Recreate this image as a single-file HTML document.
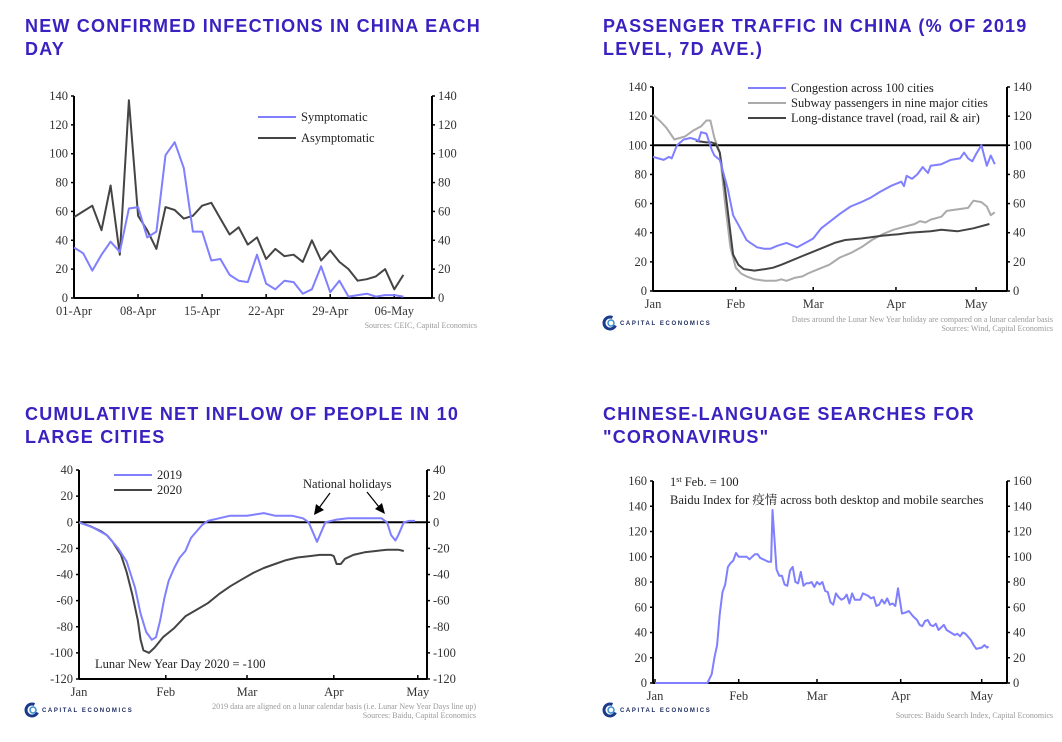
<!DOCTYPE html>
<html><head><meta charset="utf-8">
<style>
html,body{margin:0;padding:0;background:#fff;}
svg{display:block;}
.title{font-family:"Liberation Sans","DejaVu Sans",sans-serif;font-weight:bold;font-size:18px;fill:#3a22c0;letter-spacing:1.2px;}
.tick{font-family:"Liberation Serif",serif;font-size:12.5px;fill:#333;}
.leg{font-family:"Liberation Serif","Noto Serif CJK SC",serif;font-size:12.5px;fill:#222;}
.src{font-family:"Liberation Serif",serif;font-size:8px;fill:#999;}
.logo{font-family:"Liberation Sans",sans-serif;font-size:6px;font-weight:bold;fill:#1b2a5c;letter-spacing:1.6px;}
</style></head>
<body>
<svg id="root" width="1062" height="742" viewBox="0 0 1062 742" xmlns="http://www.w3.org/2000/svg">
<text class="title" x="25" y="32">NEW CONFIRMED INFECTIONS IN CHINA EACH<tspan x="25" y="55">DAY</tspan></text>
<text class="title" x="603" y="32">PASSENGER TRAFFIC IN CHINA (% OF 2019<tspan x="603" y="55">LEVEL, 7D AVE.)</tspan></text>
<text class="title" x="25" y="420">CUMULATIVE NET INFLOW OF PEOPLE IN 10<tspan x="25" y="443">LARGE CITIES</tspan></text>
<text class="title" x="603" y="420">CHINESE-LANGUAGE SEARCHES FOR<tspan x="603" y="443">"CORONAVIRUS"</tspan></text>
</svg>
<script>
// ---- Chart 1 data ----
const c1Days = [0,1,2,3,4,5,6,7,8,9,10,11,12,13,14,15,16,17,18,19,20,21,22,23,24,25,26,27,28,29,30,31,32,33,34,35,36];
const c1Symptomatic = [35,31,19,30,39,32,62,63,42,46,99,108,90,46,46,26,27,16,12,11,30,10,6,12,11,3,6,22,4,12,1,2,3,1,2,2,1];
const c1Asymptomatic = [56,60,64,47,78,30,137,57,47,34,63,61,55,57,64,66,55,44,49,37,42,27,34,29,30,25,40,26,33,25,20,12,13,15,20,6,16];
const c1TickDays = [0,7,14,21,28,35];
const c1TickLabels = ["01-Apr","08-Apr","15-Apr","22-Apr","29-Apr","06-May"];
const c1YTicks = [0,20,40,60,80,100,120,140];
// ---- Chart 2 data ----
const c2CongDays = [0,4,6,7,9,11.5,14,16,17,18,20,22,23,25,28,30,33,35,36.5,39,41.5,44,46.5,50,54,58,60,63,66.5,70,74,78,81.5,85,89,93,94,95,97,99,101,103,104,108,111.5,115,116.5,118,119.6,121,123,125,126.5,128];
const c2Congestion = [92,90,92,91,100,104,105,104,103,109,108,97,93,90,70,52,42,35,33,30,29,29,31,33,30,34,36,43,48,53,58,61,64,68,72,75,72,79,77,80,85,81,86,87,90,91,95,91,89,94,100,86,93,87];
const c2SubDays = [0,3,5,8,12,15,18,20,21.5,23,25,27,29,31,33,35,38,42,46,48,50,53,56,58,62,66,70,74,78,82,86,90,94,98,100,102,104,108,110,114,118,120,123,125,126.5,128];
const c2Subway = [121,116,112,104,106,110,113,117,117,105,95,60,30,16,12,10,8,7,7,8,7,9,10,12,15,18,23,26,30,35,39,42,44,46,48,47,49,51,55,56,57,62,61,58,52,54];
const c2LongDays = [16,20,22,23.5,25,27,29,30,32,34,38,42,45,48,52,56,60,64,68,72,78,82,86,92,96,104,108,114,120,126];
const c2Long = [103,102,102,101,95,70,40,25,18,15,14,15,16,18,21,24,27,30,33,35,36,37,38,39,40,41,42,41,43,46];
const c2TickDays = [0,31,60,91,121];
const c2TickLabels = ["Jan","Feb","Mar","Apr","May"];
const c2YTicks = [0,20,40,60,80,100,120,140];
// ---- Chart 3 data ----
const c3Days2019 = [0,5,10,14,17,20,22,24,26,27.5,29,30.5,32,34,36,38,40,42,44,46,50,54,60,66,70,76,80,82,84,85,86,88,92,96,100,104,108,110,111.5,113,114,116,118,120];
const c3Values2019 = [0,-4,-10,-20,-30,-50,-70,-84,-90,-88,-75,-58,-45,-35,-27,-22,-12,-7,-2,1,3,5,5,7,5,5,3,0,-10,-15,-10,0,2,3,3,3,3,0,-10,-14,-10,0,1,1];
const c3Days2020 = [0,4,8,10,12,15,17,19,21,22,23,25,27,30,34,38,42,46,50,54,58,62,66,70,74,78,82,86,90,91,92,93.5,95,98,102,106,110,114,116];
const c3Values2020 = [0,-3,-7,-10,-15,-25,-38,-55,-75,-90,-98,-100,-96,-88,-81,-72,-67,-62,-55,-49,-44,-39,-35,-32,-29,-27,-26,-25,-25,-26,-32,-32,-28,-25,-23,-22,-21,-21,-22];
const c3TickDays = [0,31,60,91,121];
const c3TickLabels = ["Jan","Feb","Mar","Apr","May"];
const c3YTicks = [-120,-100,-80,-60,-40,-20,0,20,40];
// ---- Chart 4 data ----
const c4Days = [0,19.4,21,22,23,24,25,26,27,28,29,30,31,33,34,35,37,38,39,41,42,43,43.5,45,46,47,48,49,50,51,52,53,54,55,56,57,58,59,60,61,62,63,64,65,66,67,68,69,70,71,72,73,74,76,77,79,80,81,82,83,84,85,86,87,88,89,90,91.5,93,94,95.5,97,98,99,100,101,102,103,104,105,107,108,109.5,111,112,113,114,115,117,118,119,121,122,123,123.5];
const c4Values = [0,0,7,20,30,55,72,78,92,95,97,103,100,100,100,98,102,102,99,97,96,96,137,90,85,85,78,77,89,92,80,79,88,77,79,79,80,76,80,78,80,73,72,64,62,71,68,66,67,70,63,71,66,66,71,69,67,68,61,62,66,63,67,62,63,61,75,55,56,57,53,50,46,45,49,50,46,45,47,42,46,42,40,38,39,37,40,39,34,30,27,28,30,28,29];
const c4TickDays = [0,31,60,91,121];
const c4TickLabels = ["Jan","Feb","Mar","Apr","May"];
const c4YTicks = [0,20,40,60,80,100,120,140,160];

const NS = "http://www.w3.org/2000/svg";
const root = document.getElementById('root');
function mk(tag, attrs, parent){
  const e = document.createElementNS(NS, tag);
  for (const k in attrs) e.setAttribute(k, attrs[k]);
  (parent||root).appendChild(e);
  return e;
}
function chart(cfg){
  const g = mk('g', {});
  
  
  const xs = d => cfg.x0 + (d - cfg.d0) * cfg.pxDay;
  const ys = v => cfg.yBot - (v - cfg.vMin) / (cfg.vMax - cfg.vMin) * (cfg.yBot - cfg.yTop);
  cfg.xs = xs; cfg.ys = ys; cfg.g = g;
  // y axes
  const la = mk('line', {x1:cfg.xL, y1:cfg.yTop, x2:cfg.xL, y2:cfg.yBot, stroke:'#000','stroke-width':2}, g);
  
  
  const ra = mk('line', {x1:cfg.xR, y1:cfg.yTop, x2:cfg.xR, y2:cfg.yBot, stroke:'#000','stroke-width':2}, g);
  
  
  const xa = mk('line', {x1:cfg.xL, y1:cfg.yBot, x2:cfg.xR, y2:cfg.yBot, stroke:'#000','stroke-width':2}, g);
  
  
  cfg.yTicks.forEach(v => {
    const y = ys(v);
    mk('line', {x1:cfg.xL-3, y1:y, x2:cfg.xL, y2:y, stroke:'#000','stroke-width':1.5}, g);
    mk('line', {x1:cfg.xR, y1:y, x2:cfg.xR+3, y2:y, stroke:'#000','stroke-width':1.5}, g);
    const t1 = mk('text', {x:cfg.xL-6, y:y+4, 'text-anchor':'end', class:'tick'}, g);
    t1.textContent = v;
    
    
    const t2 = mk('text', {x:cfg.xR+6, y:y+4, class:'tick'}, g);
    t2.textContent = v;
    
    
  });
  cfg.xTickDays.forEach((d, i) => {
    const x = xs(d);
    mk('line', {x1:x, y1:cfg.yBot-4, x2:x, y2:cfg.yBot, stroke:'#000','stroke-width':1.5}, g);
    const t = mk('text', {x:cfg.xAnchorStart && i===0 ? x-2 : x, y:cfg.yBot+17, 'text-anchor': cfg.xAnchorStart && i===0 ? 'start':'middle', class:'tick'}, g);
    t.textContent = cfg.xTickLabels[i];
    
    
  });
  return cfg;
}
function series(cfg, days, vals, color, name, w){
  const pts = days.map((d,i) => cfg.xs(d).toFixed(1)+','+cfg.ys(vals[i]).toFixed(1)).join(' ');
  const p = mk('polyline', {points:pts, fill:'none', stroke:color, 'stroke-width':w||2, 'stroke-linejoin':'round'}, cfg.g);
  
  
}
function refLine(cfg, v, name){
  const l = mk('line', {x1:cfg.xL, y1:cfg.ys(v), x2:cfg.xR, y2:cfg.ys(v), stroke:'#000','stroke-width':2}, cfg.g);
  
  
}
function legend(x, y, color, label, name){
  const g = mk('g', {});
  
  
  mk('line', {x1:x, y1:y, x2:x+38, y2:y, stroke:color, 'stroke-width':2}, g);
  const t = mk('text', {x:x+43, y:y+4, class:'leg'}, g);
  t.textContent = label;
}
function text(x, y, str, cls, name, anchor){
  const t = mk('text', {x:x, y:y, class:cls, 'text-anchor':anchor||'start'});
  t.textContent = str;
  
  
  return t;
}
function logo(x, y){
  const g = mk('g', {});
  
  
  mk('circle', {cx:x+7, cy:y+7, r:6, fill:'none', stroke:'#1b3a8c', 'stroke-width':3, 'stroke-dasharray':'28 10', transform:'rotate(25 '+(x+7)+' '+(y+7)+')'}, g);
  mk('circle', {cx:x+8, cy:y+7, r:3, fill:'none', stroke:'#3a8fd0', 'stroke-width':1.5}, g);
  const t = mk('text', {x:x+17, y:y+9, class:'logo'}, g);
  t.textContent = 'CAPITAL ECONOMICS';
}
const BLUE = '#7f7fff', DARK = '#444', GREY = '#aaa';

// Chart 1
const c1 = chart({name:'chart1-infections', x0:74, d0:0, pxDay:9.15, xL:74, xR:432, yTop:96, yBot:298, vMin:0, vMax:140, yTicks:c1YTicks, xTickDays:c1TickDays, xTickLabels:c1TickLabels});
series(c1, c1Days, c1Asymptomatic, DARK, 'asymptomatic-line');
series(c1, c1Days, c1Symptomatic, BLUE, 'symptomatic-line');
legend(258, 117, BLUE, 'Symptomatic', 'legend-symptomatic');
legend(258, 138, DARK, 'Asymptomatic', 'legend-asymptomatic');
text(477, 328, 'Sources: CEIC, Capital Economics', 'src', 'chart1-sources', 'end');

// Chart 2
const c2 = chart({name:'chart2-passenger-traffic', x0:653, d0:0, pxDay:2.67, xL:653, xR:1007, yTop:87, yBot:291, vMin:0, vMax:140, yTicks:c2YTicks, xTickDays:c2TickDays, xTickLabels:c2TickLabels});
refLine(c2, 100, 'reference-line-100');
series(c2, c2SubDays, c2Subway, GREY, 'subway-line');
series(c2, c2LongDays, c2Long, DARK, 'long-distance-line');
series(c2, c2CongDays, c2Congestion, BLUE, 'congestion-line');
legend(748, 88, BLUE, 'Congestion across 100 cities', 'legend-congestion');
legend(748, 103, GREY, 'Subway passengers in nine major cities', 'legend-subway');
legend(748, 118, DARK, 'Long-distance travel (road, rail & air)', 'legend-long-distance');
text(1053, 322, 'Dates around the Lunar New Year holiday are compared on a lunar calendar basis', 'src', 'chart2-note', 'end');
text(1053, 331, 'Sources: Wind, Capital Economics', 'src', 'chart2-sources', 'end');
logo(603, 316);

// Chart 3
const c3 = chart({name:'chart3-net-inflow', x0:79, d0:0, pxDay:2.8, xL:79, xR:427, yTop:470, yBot:679, vMin:-120, vMax:40, yTicks:c3YTicks, xTickDays:c3TickDays, xTickLabels:c3TickLabels});
refLine(c3, 0, 'zero-line');
series(c3, c3Days2020, c3Values2020, DARK, 'line-2020');
series(c3, c3Days2019, c3Values2019, BLUE, 'line-2019');
legend(114, 475, BLUE, '2019', 'legend-2019');
legend(114, 490, DARK, '2020', 'legend-2020');
text(303, 488, 'National  holidays', 'leg', 'national-holidays-label');
const a1 = mk('g', {});  
mk('line', {x1:330, y1:493, x2:319, y2:508, stroke:'#000', 'stroke-width':1.2}, a1);
mk('polygon', {points:'314,515 316,504 324,510', fill:'#000'}, a1);
const a2 = mk('g', {});  
mk('line', {x1:367, y1:492, x2:379, y2:507, stroke:'#000', 'stroke-width':1.2}, a2);
mk('polygon', {points:'385,514 375,509 382,503', fill:'#000'}, a2);
text(95, 668, 'Lunar  New Year Day  2020  =  -100', 'leg', 'lunar-new-year-note');
text(476, 709, '2019 data are aligned on a lunar calendar basis (i.e. Lunar New Year Days line up)', 'src', 'chart3-note', 'end');
text(476, 718, 'Sources: Baidu, Capital Economics', 'src', 'chart3-sources', 'end');
logo(25, 703);

// Chart 4
const c4 = chart({name:'chart4-baidu-searches', x0:655, d0:0, pxDay:2.7, xL:653, xR:1007, yTop:481, yBot:683, vMin:0, vMax:160, yTicks:c4YTicks, xTickDays:c4TickDays, xTickLabels:c4TickLabels});
series(c4, c4Days, c4Values, BLUE, 'baidu-index-line');
const t4 = text(670, 486, '1', 'leg', 'base-note');
const sup = mk('tspan', {'font-size':'8', dy:'-4'}, t4); sup.textContent = 'st';
const rest = mk('tspan', {dy:'4'}, t4); rest.textContent = ' Feb. = 100';
text(670, 504, 'Baidu Index  for 疫情 across both desktop  and mobile searches', 'leg', 'baidu-index-note');
text(1053, 718, 'Sources: Baidu Search Index, Capital Economics', 'src', 'chart4-sources', 'end');
logo(603, 703);
</script>
</body></html>
